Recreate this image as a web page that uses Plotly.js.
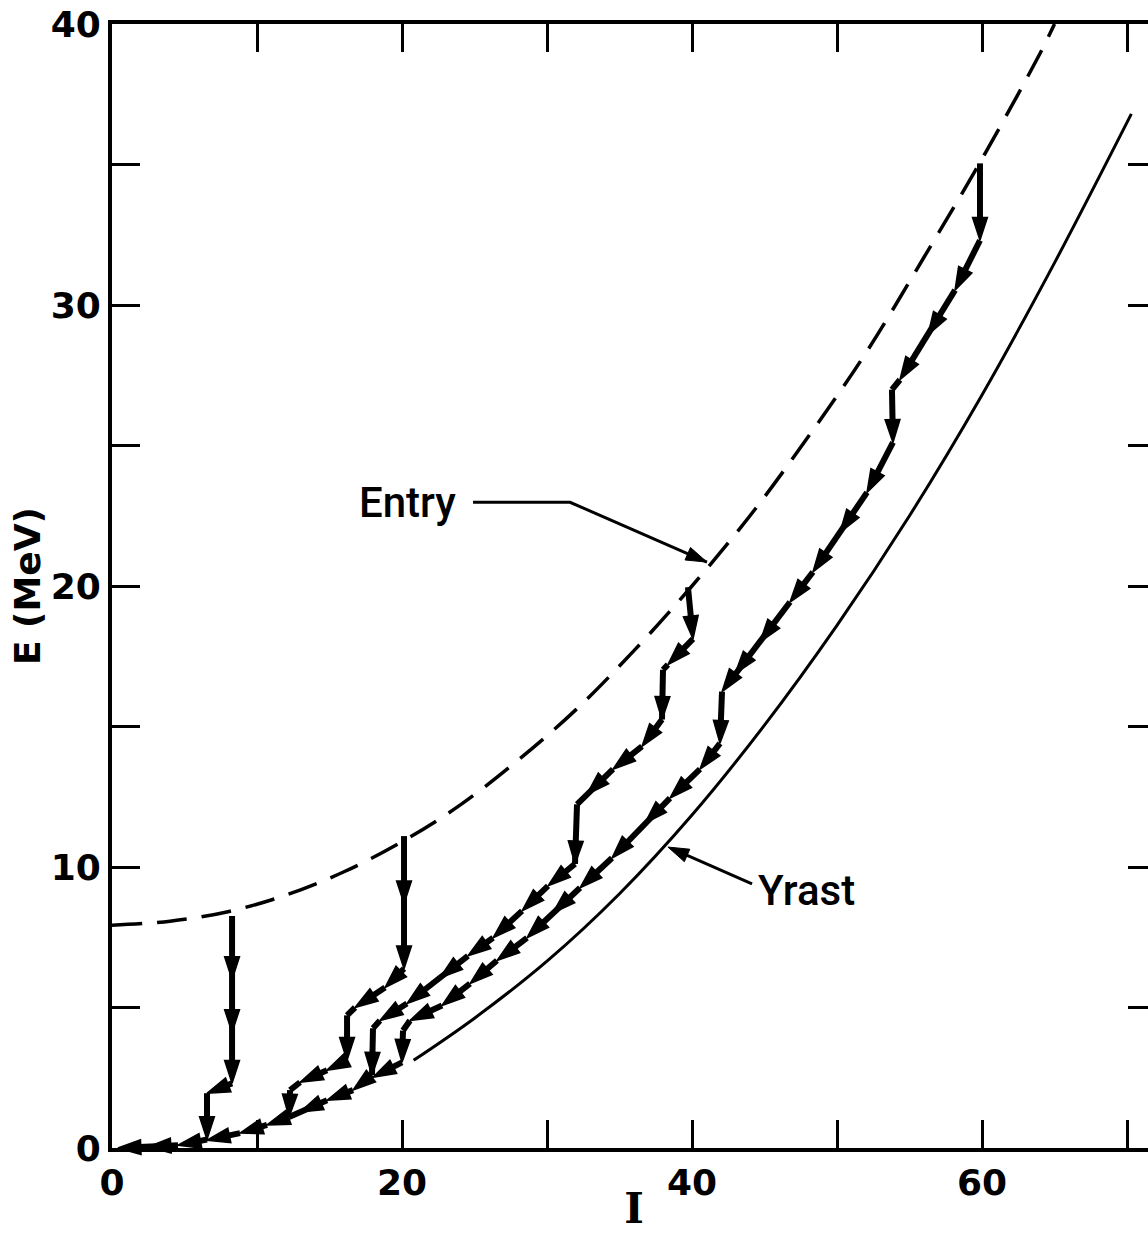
<!DOCTYPE html>
<html><head><meta charset="utf-8">
<script src="https://cdn.plot.ly/plotly-3.0.1.min.js"></script>
<style>html,body{margin:0;padding:0;overflow:hidden;background:#fff}#chart{width:1156px;height:1233px}</style>
</head><body><div id="chart"></div>
<script>
// Entry line (dashed)
const entryI = [0, 4, 8, 12, 16, 20, 24, 28, 32, 36, 40, 44, 48, 52, 56, 60, 64, 65.0];
const entryE = [7.93, 8.07, 8.41, 9.0, 9.83, 10.9, 12.2, 13.8, 15.6, 17.7, 20.0, 22.5, 25.3, 28.3, 31.7, 35.2, 38.95, 40.0];
// Yrast line (solid)
const yrastI = [20.8, 25, 30, 35, 40, 45, 50, 55, 60, 65, 70.3];
const yrastE = [3.12, 4.62, 6.65, 9.05, 11.85, 15.05, 18.6, 22.5, 26.8, 31.5, 36.8];
// Gamma cascades (states visited, in order)
const cascA_I = [8.28, 8.28, 8.28, 8.28, 6.55, 6.55, 4.55, 2.48, 0.41];
const cascA_E = [8.26, 5.99, 4.11, 2.30, 1.95, 0.30, 0.10, 0.04, 0.0];
const cascB_I = [20.14, 20.14, 20.14, 18.83, 16.76, 16.21, 16.21, 14.83, 12.97, 12.28, 12.21, 10.69, 8.83, 6.55];
const cascB_E = [11.10, 8.69, 6.38, 5.71, 5.00, 4.72, 3.12, 2.77, 2.34, 2.06, 1.10, 0.82, 0.53, 0.28];
const cascC_I = [39.72, 40.07, 38.34, 38.0, 37.93, 36.55, 34.55, 32.76, 32.07, 31.93, 30.07, 28.28, 26.28, 24.55, 22.62, 20.34, 18.48, 18.0, 17.93, 16.62, 14.83, 12.97, 12.21];
const cascC_E = [19.96, 18.12, 17.2, 17.02, 15.25, 14.29, 13.48, 12.59, 12.23, 10.11, 9.33, 8.44, 7.48, 6.84, 6.06, 5.14, 4.54, 4.26, 2.59, 2.06, 1.70, 1.28, 1.10];
const cascD_I = [59.86, 59.86, 58.14, 56.28, 54.34, 53.79, 53.86, 52.07, 50.21, 48.34, 46.76, 44.69, 42.97, 42.07, 41.93, 40.55, 38.48, 36.76, 34.48, 32.28, 30.41, 28.62, 26.55, 24.69, 22.76, 20.55, 20.07, 20.0, 18.0];
const cascD_E = [35.04, 32.3, 30.53, 28.94, 27.34, 26.99, 25.11, 23.33, 21.91, 20.5, 19.43, 18.01, 16.88, 16.24, 14.4, 13.48, 12.45, 11.56, 10.32, 9.26, 8.37, 7.48, 6.67, 5.85, 5.07, 4.54, 4.18, 3.05, 2.52];
// Label pointers
const entryLabel = {I: 20.41, E: 22.98, text: 'Entry'};
const entryPtrI = [24.9, 31.59, 41.03];
const entryPtrE = [22.98, 22.98, 20.85];
const yrastLabel = {I: 47.93, E: 9.15, text: 'Yrast'};
const yrastPtrI = [44.14, 38.34];
const yrastPtrE = [9.4, 10.71];
// Axis ticks
const xTickVals = [0, 10, 20, 30, 40, 50, 60, 70];
const xTickText = ['0', '', '20', '', '40', '', '60', ''];
const yTickVals = [0, 5, 10, 15, 20, 25, 30, 35, 40];
const yTickText = ['0', '', '10', '', '20', '', '30', '', '40'];

const PXX = 14.5, PXY = 28.1;
function arrowSizes(I, E, big) {
  return I.map((v, i) => {
    if (i === 0) return 0;
    const d = Math.hypot((I[i] - I[i-1]) * PXX, (E[i] - E[i-1]) * PXY);
    return d < 18 ? 0 : big;
  });
}
function cascade(I, E) {
  return {type: 'scatter', mode: 'lines+markers', x: I, y: E, cliponaxis: false, hoverinfo: 'skip',
    line: {color: '#000', width: 6},
    marker: {symbol: 'arrow', angleref: 'previous', size: arrowSizes(I, E, 24), color: '#000', opacity: 1, line: {width: 1.5, color: '#000'}}};
}
function pointer(I, E) {
  return {type: 'scatter', mode: 'lines+markers', x: I, y: E, cliponaxis: false, hoverinfo: 'skip',
    line: {color: '#000', width: 3},
    marker: {symbol: 'arrow', angleref: 'previous', size: I.map((v, i) => i === I.length - 1 ? 22 : 0), color: '#000', opacity: 1, line: {width: 1, color: '#000'}}};
}

const traces = [
  {type: 'scatter', mode: 'lines', x: entryI, y: entryE, line: {color: '#000', width: 3.5, dash: '30px,15px', shape: 'spline'}, hoverinfo: 'skip'},
  {type: 'scatter', mode: 'lines', x: yrastI, y: yrastE, line: {color: '#000', width: 3, shape: 'spline'}, hoverinfo: 'skip'},
  cascade(cascA_I, cascA_E),
  cascade(cascB_I, cascB_E),
  cascade(cascC_I, cascC_E),
  cascade(cascD_I, cascD_E),
  pointer(entryPtrI, entryPtrE),
  pointer(yrastPtrI, yrastPtrE)
];

const tickFont = {family: 'DejaVu Sans', size: 36, color: '#000', weight: 'bold'};
const labelFont = {family: 'Roboto', size: 42, color: '#000', weight: 500};
const layout = {
  width: 1156, height: 1233,
  margin: {l: 112, r: 0, t: 24, b: 85, pad: 0},
  paper_bgcolor: '#fff', plot_bgcolor: '#fff',
  showlegend: false,
  xaxis: {range: [0, 72.0], tickmode: 'array', tickvals: xTickVals, ticktext: xTickText,
    ticks: 'inside', ticklen: 28, tickwidth: 3, tickcolor: '#000',
    showline: true, linewidth: 4, linecolor: '#000', mirror: 'ticks',
    showgrid: false, zeroline: false, tickfont: tickFont, ticklabelstandoff: 0,
    title: {text: 'I', font: {family: 'DejaVu Serif', size: 42, color: '#000', weight: 'bold'}, standoff: 8}},
  yaxis: {range: [0, 40], tickmode: 'array', tickvals: yTickVals, ticktext: yTickText,
    ticks: 'inside', ticklen: 28, tickwidth: 3, tickcolor: '#000',
    showline: true, linewidth: 4, linecolor: '#000', mirror: 'ticks',
    showgrid: false, zeroline: false, tickfont: tickFont, ticklabelstandoff: 0,
    title: {text: 'E (MeV)', font: tickFont, standoff: 0}},
  annotations: [
    {x: entryLabel.I, y: entryLabel.E, xref: 'x', yref: 'y', text: entryLabel.text, showarrow: false, font: labelFont, xanchor: 'center', yanchor: 'middle'},
    {x: yrastLabel.I, y: yrastLabel.E, xref: 'x', yref: 'y', text: yrastLabel.text, showarrow: false, font: labelFont, xanchor: 'center', yanchor: 'middle'}
  ]
};
Plotly.newPlot('chart', traces, layout, {staticPlot: true, displayModeBar: false});
</script></body></html>
